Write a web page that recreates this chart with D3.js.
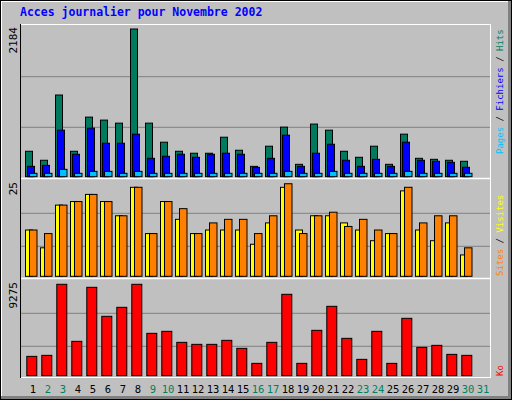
<!DOCTYPE html>
<html><head><meta charset="utf-8">
<script src="https://cdn.jsdelivr.net/npm/d3@7"></script>
<style>body{margin:0;background:#fff}svg{display:block}text{font-family:"DejaVu Sans Mono",monospace}</style>
</head><body><svg id="c" width="512" height="400"></svg>
<script>
const days=d3.range(1,32).map(String);
const weekend=[2,3,9,10,16,17,23,24,30,31];
const hits=[376,243,1208,376,881,837,792,2184,792,510,376,347,347,584,391,153,451,733,183,778,688,376,287,451,183,629,272,257,243,228,0];
const files=[153,168,688,332,718,495,495,629,272,302,332,287,332,347,332,139,272,614,153,347,480,243,153,257,153,510,243,228,213,139,0];
const pages=[50,50,109,50,79,79,50,79,50,50,50,50,50,50,50,50,50,79,50,50,79,50,50,50,50,79,50,50,50,50,0];
const visits=[13,8,20,21,23,21,17,25,12,21,16,12,13,13,13,9,15,25,13,17,17,15,13,10,12,24,13,10,15,6,0];
const sites=[13,12,20,21,23,21,17,25,12,21,19,12,15,16,16,12,17,26,12,17,18,14,16,13,12,25,15,17,17,8,0];
const ko=[1963,2065,9275,3487,8970,6025,6939,9275,4299,4502,3385,3182,3182,3588,2776,1252,3385,8259,1252,4604,7041,3791,1659,4502,1252,5822,2877,3080,2166,2065,0];
const maxLabels=["2184","25","9275"];

const svg=d3.select("#c");
svg.append("rect").attr("x",0.5).attr("y",0.5).attr("width",511).attr("height",399).attr("fill","#c0c0c0").attr("stroke","#000");
svg.append("rect").attr("x",508).attr("y",1).attr("width",3).attr("height",398).attr("fill","#808080");
svg.append("rect").attr("x",1).attr("y",396).attr("width",510).attr("height",3).attr("fill","#808080");
svg.append("line").attr("x1",1.5).attr("x2",1.5).attr("y1",1).attr("y2",396).attr("stroke","#fff");
svg.append("line").attr("x1",1).attr("x2",508).attr("y1",1.5).attr("y2",1.5).attr("stroke","#fff");
svg.append("text").attr("x",20).attr("y",16).attr("fill","#0000ff").attr("font-weight","bold").attr("font-size",11.5).text("Acces journalier pour Novembre 2002");

const x=d3.scaleBand().domain(days).range([25,25+31*15]);
const L=20,R=490;
const panels=[{top:25,base:176.7,max:2184,h:147.7,series:[[hits,"#007a5e",0,7],[files,"#0000ff",2,7],[pages,"#00c0ff",4,7.5]],grid:[76.7,127.3]},
 {top:180,base:276.3,max:25,h:89,series:[[visits,"#ffff00",0,7],[sites,"#ff8000",4,7.5]],grid:[213.3,246.3]},
 {top:280,base:375.7,max:9275,h:91.4,series:[[ko,"#ff0000",1.3,10]],grid:[313.3,346.3]}];
panels.forEach((p,i)=>{
  const y=d3.scaleLinear().domain([0,p.max]).range([p.base,p.base-p.h]);
  p.grid.forEach(g=>svg.append("line").attr("x1",L).attr("x2",R).attr("y1",g).attr("y2",g).attr("stroke","#808080"));
  p.series.forEach(([vals,col,off,w])=>{
    svg.append("g").selectAll("rect").data(vals.map((v,j)=>({d:days[j],v})).filter(o=>o.v>0)).join("rect")
      .attr("x",o=>x(o.d)+off+0.5).attr("y",o=>y(o.v)).attr("width",w).attr("height",o=>p.base-y(o.v))
      .attr("fill",col).attr("stroke","#000").attr("stroke-width",1);
  });
  svg.append("text").attr("transform",`translate(17,${p.top+2}) rotate(-90)`).attr("text-anchor","end").attr("font-size",11).attr("fill","#000").text(maxLabels[i]);
});
svg.append("line").attr("x1",L).attr("x2",R).attr("y1",24.5).attr("y2",24.5).attr("stroke","#fff");
svg.append("line").attr("x1",R+0.5).attr("x2",R+0.5).attr("y1",24).attr("y2",378).attr("stroke","#fff");
[178.5,278.5].forEach(yy=>svg.append("line").attr("x1",L).attr("x2",R).attr("y1",yy).attr("y2",yy).attr("stroke","#fff").attr("stroke-width",1.5));
svg.append("line").attr("x1",L).attr("x2",R+1).attr("y1",377.5).attr("y2",377.5).attr("stroke","#fff");
svg.append("line").attr("x1",L+0.5).attr("x2",L+0.5).attr("y1",24).attr("y2",378).attr("stroke","#000");
svg.append("g").selectAll("text").data(days).join("text").attr("x",d=>x(d)+8).attr("y",393)
  .attr("text-anchor","middle").attr("font-size",10.5).attr("fill",d=>weekend.includes(+d)?"#008060":"#000").text(d=>d);
function rlab(y0,parts){const t=svg.append("text").attr("transform",`translate(503,${y0}) rotate(-90)`).attr("font-size",9);
  parts.forEach(([s,c])=>t.append("tspan").attr("fill",c).text(s));}
rlab(154,[["Pages","#00c0ff"],[" / ","#000"],["Fichiers","#0000ff"],[" / ","#000"],["Hits","#007a5e"]]);
rlab(276,[["Sites","#ff8000"],[" / ","#000"],["Visites","#ffff00"]]);
rlab(376,[["Ko","#ff0000"]]);
</script></body></html>
